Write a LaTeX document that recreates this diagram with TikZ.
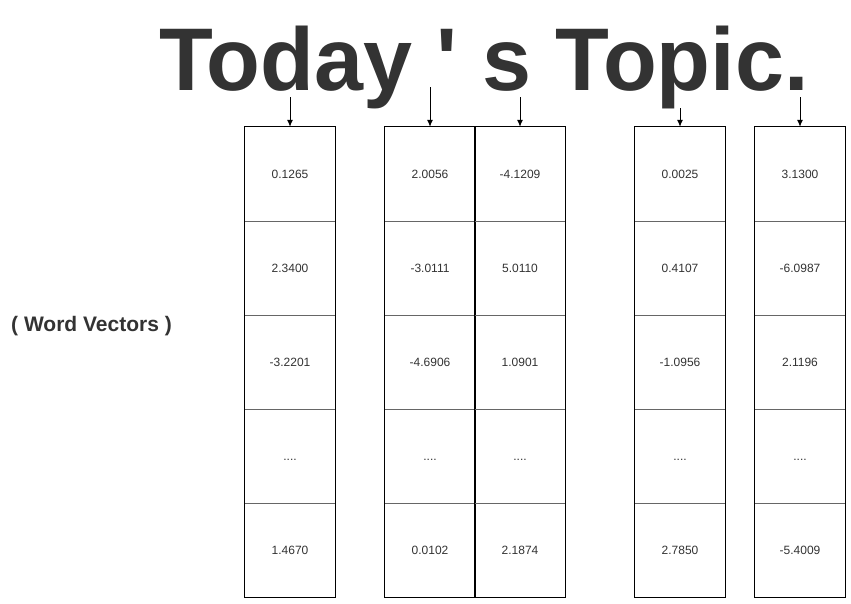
\documentclass[tikz,border=0pt]{standalone}
\usepackage{fontspec}
\usepackage{graphicx}
\setmainfont{Liberation Sans}
\newfontfamily\titlefont{Liberation Sans}[Ligatures=TeXOff]
\usetikzlibrary{arrows.meta}
\definecolor{txt}{HTML}{333333}
\definecolor{innerline}{HTML}{666666}
\newcommand{\myfourdots}{....}
\begin{document}
\begin{tikzpicture}[x=1pt,y=-1pt,
  cell/.style={minimum width=90pt,minimum height=94pt,inner sep=0pt,text height=8.6pt,text depth=0pt,text=txt,font=\fontsize{12}{14}\selectfont},
  outerbox/.style={draw=black,line width=1pt},
  innerrule/.style={draw=innerline,line width=1pt},
  pointer/.style={draw=black,line width=1pt,-{Latex[length=7pt,width=6pt]}}]
\useasboundingbox (0,0) rectangle (851,603);
\fill[white] (0,0) rectangle (851,603);
\node[anchor=base,inner sep=0pt,text=txt,font=\fontsize{89}{100}\titlefont\bfseries] (title) at (484,90) {\scalebox{0.99}[1]{Today ' s Topic.}};
\node[anchor=west,inner sep=0pt,text=txt,font=\fontsize{21}{24}\selectfont\bfseries] (wv) at (11,326) {( Word Vectors )};
% columns: name/x-center/values
\foreach \c/\x/\a/\b/\cc/\e in {
  a/290/0.1265/2.3400/-3.2201/1.4670,
  b/430/2.0056/-3.0111/-4.6906/0.0102,
  c/520/-4.1209/5.0110/1.0901/2.1874,
  d/680/0.0025/0.4107/-1.0956/2.7850,
  e/800/3.1300/-6.0987/2.1196/-5.4009}{
  \node[cell] (\c1) at (\x,174) {\a};
  \node[cell] (\c2) at (\x,268) {\b};
  \node[cell] (\c3) at (\x,362) {\cc};
  \node[cell] (\c4) at (\x,456) {\myfourdots};
  \node[cell] (\c5) at (\x,550) {\e};
  \draw[innerrule] (\c1.south west) -- (\c1.south east);
  \draw[innerrule] (\c2.south west) -- (\c2.south east);
  \draw[innerrule] (\c3.south west) -- (\c3.south east);
  \draw[innerrule] (\c4.south west) -- (\c4.south east);
  \draw[outerbox] (\c1.north west) rectangle (\c5.south east);
}
\coordinate (sa) at (290,97);
\coordinate (sb) at (430,87);
\coordinate (sc) at (520,97);
\coordinate (sd) at (680,108);
\coordinate (se) at (800,97);
\draw[pointer] (sa) -- (a1.north);
\draw[pointer] (sb) -- (b1.north);
\draw[pointer] (sc) -- (c1.north);
\draw[pointer] (sd) -- (d1.north);
\draw[pointer] (se) -- (e1.north);
\end{tikzpicture}
\end{document}
